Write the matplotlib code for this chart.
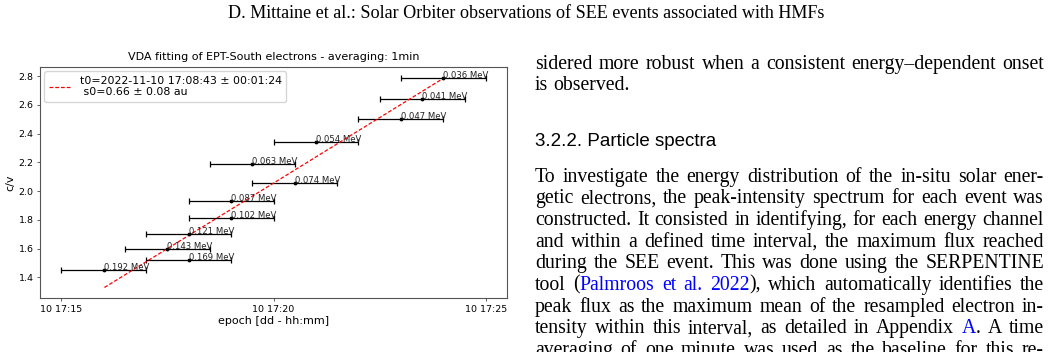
import datetime as dt

import matplotlib
matplotlib.use("Agg")
import matplotlib.pyplot as plt
import matplotlib.dates as mdates
from matplotlib.transforms import IdentityTransform

# VDA points (EPT-South electrons, 1 min averaging)
day = '2022-11-10'
energy_labels = ['0.036 MeV', '0.041 MeV', '0.047 MeV', '0.054 MeV', '0.063 MeV', '0.074 MeV',
                 '0.087 MeV', '0.102 MeV', '0.121 MeV', '0.143 MeV', '0.169 MeV', '0.192 MeV']
onset_times = ['17:24:00', '17:23:30', '17:23:00', '17:21:00', '17:19:30', '17:20:30',
               '17:19:00', '17:19:00', '17:18:00', '17:17:30', '17:18:00', '17:16:00']
inv_beta = [2.79, 2.64, 2.50, 2.34, 2.19, 2.06, 1.93, 1.81, 1.70, 1.60, 1.52, 1.45]
onset_err_min = 1.0

# fit result
t0_str = '2022-11-10 17:08:43'
s0_au = 0.66
fit_inv_beta = [1.33, 2.79]
legend_label = 't0=2022-11-10 17:08:43 \u00b1 00:01:24\n s0=0.66 \u00b1 0.08 au'
AU_LIGHT_SEC = 499.005

# page text around the figure
header = 'D. Mittaine et al.: Solar Orbiter observations of SEE events associated with HMFs'
para1 = [
    [('sidered more robust when a consistent energy\u2013dependent onset', 'k')],
    [('is observed.', 'k')],
]
heading = '3.2.2. Particle spectra'
BLUE = '#0000ff'
para2 = [
    [('To investigate the energy distribution of the in-situ solar ener-', 'k')],
    [('getic electrons, the peak-intensity spectrum for each event was', 'k')],
    [('constructed. It consisted in identifying, for each energy channel', 'k')],
    [('and within a defined time interval, the maximum flux reached', 'k')],
    [('during the SEE event. This was done using the SERPENTINE', 'k')],
    [('tool (', 'k'), ('Palmroos et al. 2022', BLUE), ('), which automatically identifies the', 'k')],
    [('peak flux as the maximum mean of the resampled electron in-', 'k')],
    [('tensity within this interval, as detailed in Appendix ', 'k'), ('A', BLUE), ('. A time', 'k')],
    [('averaging of one minute was used as the baseline for this re-', 'k')],
]

W, H = 1052, 352
fig = plt.figure(figsize=(W / 100, H / 100), dpi=100)
renderer = fig.canvas.get_renderer()

# ---- chart ----
ax = fig.add_axes([40 / W, (H - 298) / H, 467 / W, 231 / H])

x = [mdates.date2num(dt.datetime.strptime(day + ' ' + t, '%Y-%m-%d %H:%M:%S')) for t in onset_times]
xerr = onset_err_min / 1440.0
ax.errorbar(x, inv_beta, xerr=xerr, fmt='.', color='black', ms=3.5, elinewidth=0.9, capsize=2, capthick=0.9)

t0 = dt.datetime.strptime(t0_str, '%Y-%m-%d %H:%M:%S')
fit_x = [mdates.date2num(t0 + dt.timedelta(seconds=s0_au * AU_LIGHT_SEC * cv)) for cv in fit_inv_beta]
ax.plot(fit_x, fit_inv_beta, '--', color='red', lw=0.9, dashes=(3, 1.6), label=legend_label)

for xi, yi, lab in zip(x, inv_beta, energy_labels):
    ax.text(xi, yi, lab, fontsize=6.1, color='#222222')

ax.xaxis.set_major_locator(mdates.MinuteLocator(byminute=range(0, 60, 5)))
ax.xaxis.set_major_formatter(mdates.DateFormatter('%d %H:%M'))
ax.tick_params(labelsize=6.8, length=2.5, pad=2.2, width=0.6, color='#444444')
ax.set_title('VDA fitting of EPT-South electrons - averaging: 1min', fontsize=8, pad=5)
ax.set_xlabel('epoch [dd - hh:mm]', fontsize=8, labelpad=2)
ax.set_ylabel('c/v', fontsize=8, labelpad=2)
ax.legend(loc='upper left', fontsize=7.9, borderaxespad=0.4)
for sp in ax.spines.values():
    sp.set_color('#555555')


# ---- page text (pixel coordinates, y measured from top) ----
def put(xp, yp, s, **kw):
    return fig.text(xp, H - yp, s, transform=IdentityTransform(), va='baseline', **kw)


def width_of(s, **kw):
    t = put(0, 0, s, **kw)
    w = t.get_window_extent(renderer).width
    t.remove()
    return w


def fit_size(s, target, **kw):
    return 10 * target / width_of(s, fontsize=10, **kw)


SERIF = 'Liberation Serif'
SANS = 'Liberation Sans'

hsize = fit_size(header, 598, family=SERIF)
put(W / 2, 18.5, header, ha='center', family=SERIF, fontsize=hsize)

body = fit_size('is observed.', 94, family=SERIF)
put(535, 146.5, heading, family=SANS, fontsize=fit_size(heading, 182, family=SANS))

X0, X1 = 535, 1044


def to_words(chunks):
    words = [[]]
    for txt, col in chunks:
        parts = txt.split(' ')
        for i, p in enumerate(parts):
            if i > 0:
                words.append([])
            if p:
                words[-1].append((p, col))
    return [w for w in words if w]


def draw_line(chunks, yp, last=False):
    words = to_words(chunks)
    widths = [sum(width_of(s, family=SERIF, fontsize=body) for s, c in w) for w in words]
    if last or len(words) < 2:
        gap = width_of('a a', family=SERIF, fontsize=body) - 2 * width_of('a', family=SERIF, fontsize=body)
    else:
        gap = (X1 - X0 - sum(widths)) / (len(words) - 1)
    xp = X0
    for w, ww in zip(words, widths):
        for s, c in w:
            put(xp, yp, s, color=c, family=SERIF, fontsize=body)
            xp += width_of(s, family=SERIF, fontsize=body)
        xp += gap


draw_line(para1[0], 68.8)
draw_line(para1[1], 89.6, last=True)
for i, line in enumerate(para2):
    draw_line(line, 181.7 + i * 21.65)

fig.savefig('out.png', dpi=100)
